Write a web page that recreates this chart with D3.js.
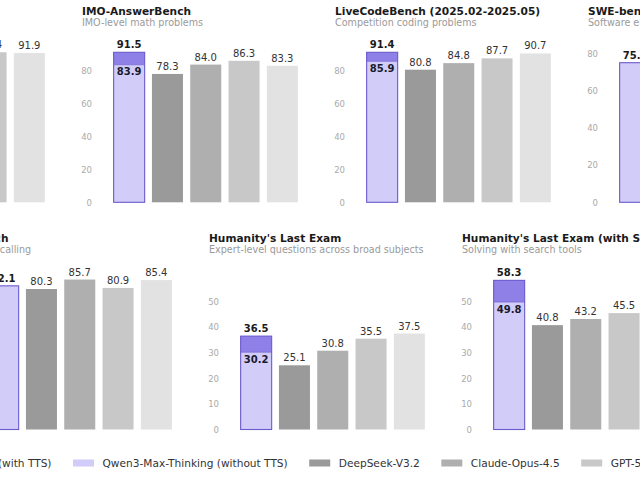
<!DOCTYPE html>
<html>
<head>
<meta charset="utf-8">
<script src="https://cdn.jsdelivr.net/npm/d3@7"></script>
<style>
    body { margin: 0; background: #fff; overflow: hidden; }
    text { font-family: "DejaVu Sans", sans-serif; }
</style>
</head>
<body>
<div id="chart"></div>
<script>
// models, in bar order (first two are the stacked Qwen bar)
const models = ['Qwen3-Max-Thinking (with TTS)', 'Qwen3-Max-Thinking (without TTS)', 'DeepSeek-V3.2',
    'Claude-Opus-4.5', 'GPT-5.2-Thinking', 'Gemini 3 Pro'];
const modelColors = ['#8e80e6', '#d2ccf8', '#9a9a9a', '#afafaf', '#c8c8c8', '#e2e2e2'];

// benchmarks: top row then bottom row
const benchmarks = ['GPQA-Diamond', 'IMO-AnswerBench', 'LiveCodeBench (2025.02-2025.05)', 'SWE-bench Verified',
    'τ²-Bench', "Humanity's Last Exam", "Humanity's Last Exam (with Search)"];
const subtitles = ['Graduate-level science questions', 'IMO-level math problems', 'Competition coding problems',
    'Software engineering tasks', 'Function calling', 'Expert-level questions across broad subjects',
    'Solving with search tools'];
const rowOf = [0, 0, 0, 0, 1, 1, 1];
const colOf = [0, 1, 2, 3, 0, 1, 2];

// scores (null = no value)
const qwenWithTTS = [null, 91.5, 91.4, null, null, 36.5, 58.3];
const qwenNoTTS = [87.4, 83.9, 85.9, 75.3, 82.1, 30.2, 49.8];
const deepseek = [82.4, 78.3, 80.8, 73.1, 80.3, 25.1, 40.8];
const claude = [87.0, 84.0, 84.8, 80.9, 85.7, 30.8, 43.2];
const gpt = [92.4, 86.3, 87.7, 80.0, 80.9, 35.5, 45.5];
const gemini = [91.9, 83.3, 90.7, 76.2, 85.4, 37.5, 45.8];

// y axis top and tick labels per benchmark
const yTop = [101.6, 100.65, 100.54, 89.0, 94.3, 64.5, 64.5];
const yTicks = [
    [0, 20, 40, 60, 80], [0, 20, 40, 60, 80], [0, 20, 40, 60, 80], [0, 20, 40, 60, 80],
    [0, 20, 40, 60, 80], [0, 10, 20, 30, 40, 50], [0, 10, 20, 30, 40, 50]
];

const barKeys = ['qwen', 'deepseek', 'claude', 'gpt', 'gemini'];

const width = 640, height = 480;
const plotW = 191.5, plotH = 165;
const colStep = 253;
const rowLeft = [-143, -16];
const rowBase = [202.3, 429.5];

const svg = d3.select('#chart').append('svg')
    .attr('width', width)
    .attr('height', height);

benchmarks.forEach((name, i) => {
    const left = rowLeft[rowOf[i]] + colStep * colOf[i];
    const top = rowBase[rowOf[i]] - plotH;

    const g = svg.append('g')
        .attr('transform', `translate(${left},${top})`);

    const x = d3.scaleBand()
        .domain(barKeys)
        .range([0, plotW])
        .paddingInner(0.19)
        .paddingOuter(0.095);

    const y = d3.scaleLinear()
        .domain([0, yTop[i]])
        .range([plotH, 0]);

    // titles
    g.append('text')
        .attr('x', -28)
        .attr('y', -22.3)
        .attr('font-size', 10.6)
        .attr('font-weight', 'bold')
        .attr('fill', '#1a1a1a')
        .text(name);

    g.append('text')
        .attr('x', -28)
        .attr('y', -11.3)
        .attr('font-size', 9.6)
        .attr('fill', '#9a9a9a')
        .text(subtitles[i]);

    // y tick labels only
    const yAxisG = g.append('g')
        .call(d3.axisLeft(y).tickValues(yTicks[i]).tickSize(0).tickPadding(18))
        .call(a => a.select('.domain').remove());
    yAxisG.selectAll('text')
        .attr('font-family', '"DejaVu Sans Mono", monospace')
        .attr('font-size', 8.5)
        .attr('fill', '#aaaaaa');

    // gray comparison bars
    const others = [
        { key: 'deepseek', v: deepseek[i], c: modelColors[2] },
        { key: 'claude', v: claude[i], c: modelColors[3] },
        { key: 'gpt', v: gpt[i], c: modelColors[4] },
        { key: 'gemini', v: gemini[i], c: modelColors[5] }
    ].filter(d => d.v != null);

    g.selectAll('.bar')
        .data(others)
        .join('rect')
            .attr('class', 'bar')
            .attr('x', d => x(d.key))
            .attr('y', d => y(d.v))
            .attr('width', x.bandwidth())
            .attr('height', d => y(0) - y(d.v))
            .attr('fill', d => d.c);

    g.selectAll('.bar-label')
        .data(others)
        .join('text')
            .attr('class', 'bar-label')
            .attr('x', d => x(d.key) + x.bandwidth() / 2)
            .attr('y', d => y(d.v) - 4)
            .attr('text-anchor', 'middle')
            .attr('font-size', 10)
            .attr('fill', '#333')
            .text(d => d.v.toFixed(1));

    // Qwen bar: light part, dark TTS gain on top, outline round both
    const base = qwenNoTTS[i];
    const full = qwenWithTTS[i] != null ? qwenWithTTS[i] : base;
    const qx = x('qwen');

    g.append('rect')
        .attr('x', qx)
        .attr('y', y(base))
        .attr('width', x.bandwidth())
        .attr('height', y(0) - y(base))
        .attr('fill', modelColors[1]);

    if (qwenWithTTS[i] != null) {
        g.append('rect')
            .attr('x', qx)
            .attr('y', y(full))
            .attr('width', x.bandwidth())
            .attr('height', y(base) - y(full))
            .attr('fill', modelColors[0]);
        g.append('line')
            .attr('x1', qx)
            .attr('x2', qx + x.bandwidth())
            .attr('y1', y(base))
            .attr('y2', y(base))
            .attr('stroke', '#6a5acd')
            .attr('stroke-width', 0.6);
        g.append('text')
            .attr('x', qx + x.bandwidth() / 2)
            .attr('y', y(base) + 10.5)
            .attr('text-anchor', 'middle')
            .attr('font-size', 10)
            .attr('font-weight', 'bold')
            .attr('fill', '#1a1a2e')
            .text(base.toFixed(1));
    }

    g.append('rect')
        .attr('x', qx)
        .attr('y', y(full))
        .attr('width', x.bandwidth())
        .attr('height', y(0) - y(full))
        .attr('fill', 'none')
        .attr('stroke', '#6a5acd')
        .attr('stroke-width', 1.1);

    g.append('text')
        .attr('x', qx + x.bandwidth() / 2)
        .attr('y', y(full) - 4)
        .attr('text-anchor', 'middle')
        .attr('font-size', 10)
        .attr('font-weight', 'bold')
        .attr('fill', '#1a1a1a')
        .text(full.toFixed(1));
});

// legend, laid out left to right from measured text widths
const legend = svg.append('g').attr('class', 'legend');
const swW = 21, swH = 7, swGap = 8.5, itemGap = 21.5, legendY = 463;

const items = models.map((m, k) => {
    const it = legend.append('g');
    it.append('rect')
        .attr('width', swW)
        .attr('height', swH)
        .attr('y', legendY - swH / 2)
        .attr('fill', modelColors[k]);
    const t = it.append('text')
        .attr('x', swW + swGap)
        .attr('y', legendY + 3.9)
        .attr('font-size', 10.6)
        .attr('fill', '#333')
        .text(m);
    return { g: it, w: swW + swGap + t.node().getComputedTextLength() };
});

// second item's swatch sits at x = 73
let lx = 73 - items[0].w - itemGap;
items.forEach(it => {
    it.g.attr('transform', `translate(${lx},0)`);
    lx += it.w + itemGap;
});
</script>
</body>
</html>
